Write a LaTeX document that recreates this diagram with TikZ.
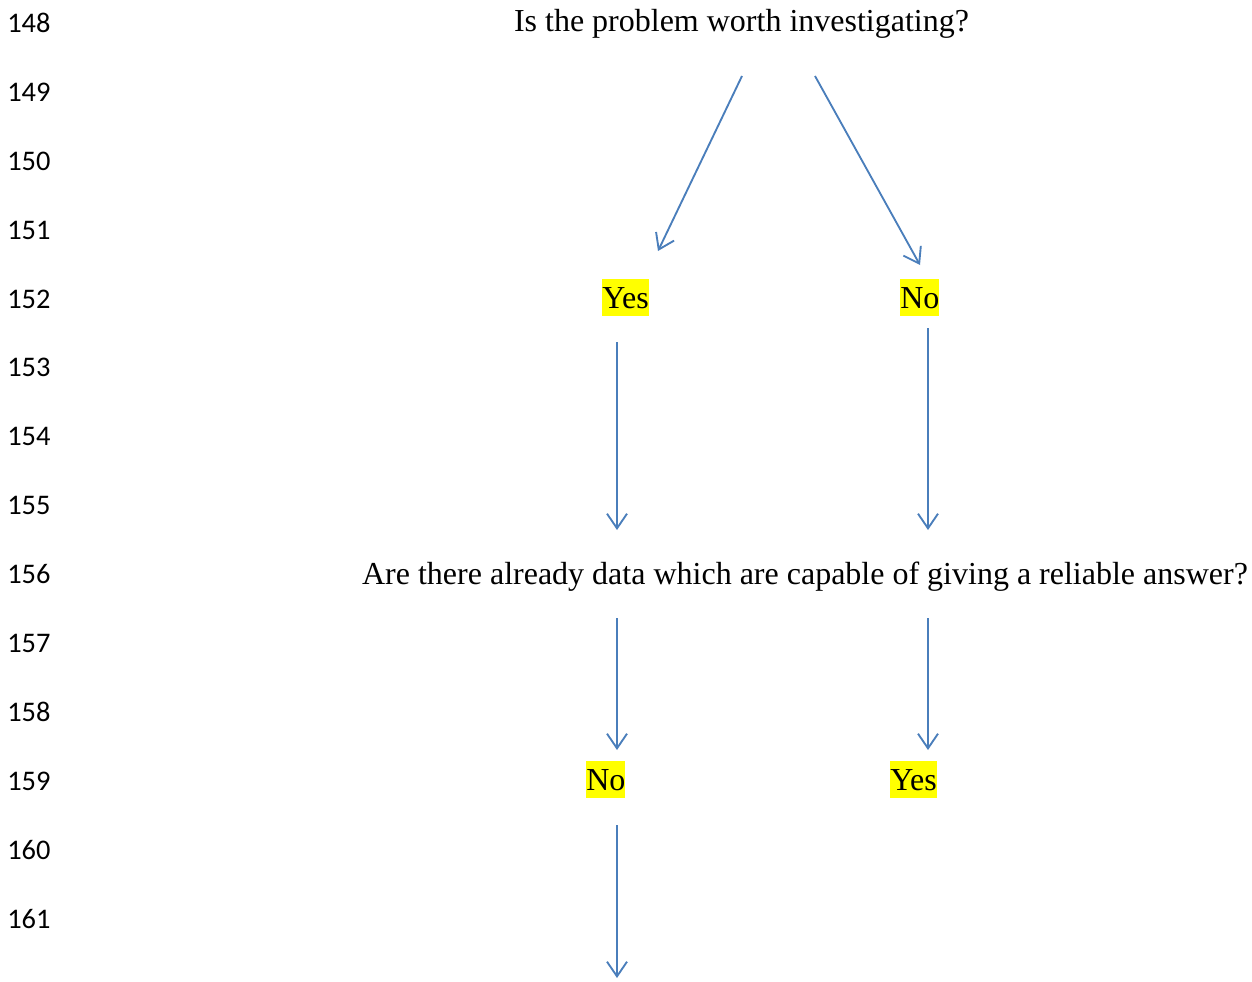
\documentclass[tikz,border=0pt]{standalone}
\usepackage{fontspec}
\setmainfont{Liberation Serif}
\newfontfamily\numfont{Carlito}
\usetikzlibrary{arrows.meta}
\definecolor{arrowblue}{HTML}{4A7EBB}
\definecolor{hl}{HTML}{FFFF00}
\tikzset{
  lnum/.style={inner sep=0pt, anchor=base west, font=\numfont\fontsize{21.3}{25}\selectfont},
  qtext/.style={inner sep=0pt, anchor=base, font=\fontsize{24}{28}\selectfont},
  answer/.style={inner sep=0pt, anchor=base west, fill=hl, text height=21.5pt, text depth=6pt, font=\fontsize{24}{28}\selectfont},
  flow/.style={draw=arrowblue, line width=1.4pt, -{Straight Barb[length=11pt,width=15pt,line width=1.4pt]}}
}
\begin{document}
\begin{tikzpicture}[x=0.75pt,y=-0.75pt]
\useasboundingbox (0,0) rectangle (1252,981);
\foreach \n [evaluate=\n as \yy using {308+(\n-152)*68.9}] in {148,...,161}
  \node[lnum] (l\n) at (7,\yy) {\n};
% texts
\node[qtext] (q1) at (741.5,32) {Is the problem worth investigating?};
\node[answer] (y1) at (602,308) {Yes};
\node[answer] (n1) at (900,308) {No};
\node[qtext] (q2) at (805,584) {Are there already data which are capable of giving a reliable answer?};
\node[answer] (n2) at (586,790) {No};
\node[answer] (y2) at (890,790) {Yes};
% arrow ends
\coordinate (a1s) at (742,76);  \coordinate (a1e) at (658,251);
\coordinate (a2s) at (815,76);  \coordinate (a2e) at (920,265);
\coordinate (a3s) at (617,342); \coordinate (a3e) at (617,530);
\coordinate (a4s) at (928,328); \coordinate (a4e) at (928,530);
\coordinate (a5s) at (617,618); \coordinate (a5e) at (617,750);
\coordinate (a6s) at (928,618); \coordinate (a6e) at (928,750);
\coordinate (a7s) at (617,825); \coordinate (a7e) at (617,978);
\draw[flow] (a1s) -- (a1e);
\draw[flow] (a2s) -- (a2e);
\draw[flow] (a3s) -- (a3e);
\draw[flow] (a4s) -- (a4e);
\draw[flow] (a5s) -- (a5e);
\draw[flow] (a6s) -- (a6e);
\draw[flow] (a7s) -- (a7e);
\end{tikzpicture}
\end{document}
